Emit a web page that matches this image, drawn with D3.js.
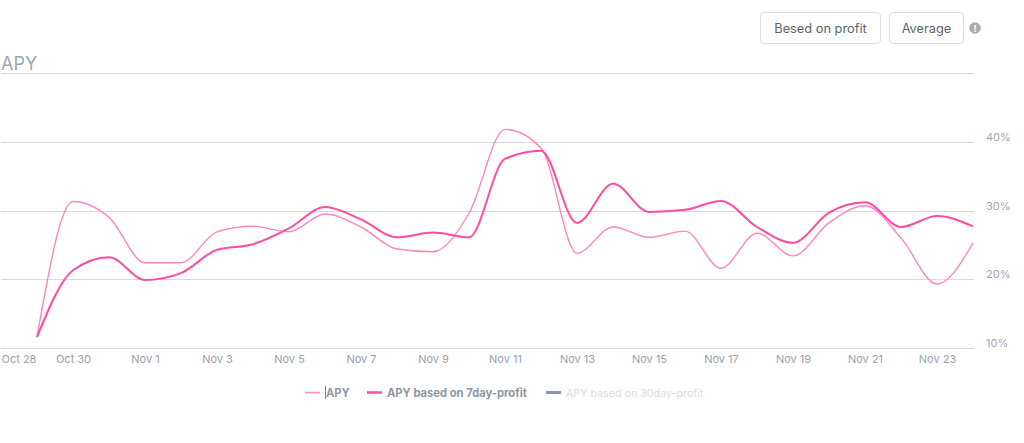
<!DOCTYPE html>
<html>
<head>
<meta charset="utf-8">
<script src="https://cdnjs.cloudflare.com/ajax/libs/d3/7.8.5/d3.min.js"></script>
<style>
html,body{margin:0;padding:0;background:#fff;overflow:hidden}
svg{display:block;font-family:Inter,"Noto Sans",sans-serif}
.domain{display:none}
.tick line{display:none}
</style>
</head>
<body>
<svg id="c" width="1024" height="443"></svg>
<script>
const startDate = "2021-10-29";
const apy = [11.6,31.3,29.0,22.4,22.4,26.9,27.7,26.9,29.5,27.6,24.4,24.0,29.6,41.8,39.1,23.8,27.6,26.1,27.0,21.6,26.7,23.4,28.2,30.7,26.0,19.3,25.3];
const apy7 = [11.6,21.3,23.2,19.9,20.9,24.3,25.1,27.4,30.5,28.7,26.1,26.8,26.1,37.5,38.7,28.2,33.9,29.8,30.1,31.4,27.6,25.3,29.7,31.2,27.6,29.2,27.7];
const xTicks = ["2021-10-28","2021-10-30","2021-11-01","2021-11-03","2021-11-05","2021-11-07","2021-11-09","2021-11-11","2021-11-13","2021-11-15","2021-11-17","2021-11-19","2021-11-21","2021-11-23"];
const yTicks = [10,20,30,40,50];
const legendItems = ["APY","APY based on 7day-profit","APY based on 30day-profit"];
const buttons = ["Besed on profit","Average"];

const svg = d3.select("#c");
const x = d3.scaleUtc().domain([new Date("2021-10-28"),new Date("2021-11-24")]).range([1,973]);
const y = d3.scaleLinear().domain([10,50]).range([348,73]);
const DAY = 864e5, t0 = +new Date(startDate);
const dateOf = i => new Date(t0 + i*DAY);

// grid
svg.append("g").selectAll("line").data(yTicks).join("line")
  .attr("x1",1).attr("x2",974).attr("y1",d=>Math.round(y(d))+.5).attr("y2",d=>Math.round(y(d))+.5)
  .attr("stroke","#d9d9d9").attr("stroke-width",1);

// axes
const gx = svg.append("g").attr("transform","translate(0,348)")
  .call(d3.axisBottom(x).tickValues(xTicks.map(d=>new Date(d))).tickFormat(d3.utcFormat("%b %-d")).tickSize(0).tickPadding(7));
gx.selectAll("text").attr("fill","#9aa1ab").attr("font-size",11).attr("font-family","Inter");
gx.selectAll(".tick").filter((d,i)=>i===0).select("text").attr("text-anchor","start");

const gy = svg.append("g").attr("transform","translate(986,0)")
  .call(d3.axisRight(y).tickValues(yTicks.slice(0,4)).tickFormat(d=>d+"%").tickSize(0).tickPadding(0));
gy.selectAll("text").attr("fill","#a3a7ad").attr("font-size",11).attr("font-family","Inter").attr("dy","-1.4");

// lines
const line = d3.line().x((d,i)=>x(dateOf(i))).y(d=>y(d)).curve(d3.curveMonotoneX);
svg.append("path").datum(apy).attr("d",line).attr("fill","none").attr("stroke","#ff85c2").attr("stroke-width",1.4);
svg.append("path").datum(apy7).attr("d",line).attr("fill","none").attr("stroke","#ff4ba3").attr("stroke-width",2);

// title
svg.append("text").attr("x",1).attr("y",69.5).text("APY").attr("font-size",18).attr("fill","#9ba6b4");

// buttons
const btnX=[760.5,889.5], btnW=[120,74];
const gb = svg.append("g").selectAll("g").data(buttons).join("g").attr("transform",(d,i)=>`translate(${btnX[i]},12.5)`);
gb.append("rect").attr("width",(d,i)=>btnW[i]).attr("height",31).attr("rx",3.5).attr("fill","#fff").attr("stroke","#dddddd");
gb.append("text").attr("x",(d,i)=>btnW[i]/2).attr("y",20.5).attr("text-anchor","middle").attr("font-size",12.8).attr("fill","#5f6368").text(d=>d);

// info icon
svg.append("circle").attr("cx",975).attr("cy",28).attr("r",5.8).attr("fill","#adadad");
svg.append("text").attr("x",975).attr("y",31.5).attr("text-anchor","middle").attr("font-size",9.5).attr("font-weight",700).attr("fill","#fff").text("!");

// legend
const lgX=[305,367,546], lgColor=["#ff8cc6","#ff4ba3","#8a94a6"], lgW=[1.5,2.5,3], lgSize=[11.2,11.2,10.7];
const gl = svg.append("g").selectAll("g").data(legendItems).join("g").attr("transform",(d,i)=>`translate(${lgX[i]},392.5)`);
gl.append("line").attr("x1",0).attr("x2",15).attr("stroke",(d,i)=>lgColor[i]).attr("stroke-width",(d,i)=>lgW[i]);
gl.append("text").attr("x",(d,i)=>i===0?21:20).attr("y",4.2).attr("font-size",(d,i)=>lgSize[i]).attr("font-weight",(d,i)=>i===2?400:700)
  .attr("fill",(d,i)=>i===2?"#dddddd":"#8f97a3").text(d=>d);
svg.append("line").attr("x1",325.5).attr("x2",325.5).attr("y1",386).attr("y2",399).attr("stroke","#7f8894").attr("stroke-width",1);
</script>
</body>
</html>
